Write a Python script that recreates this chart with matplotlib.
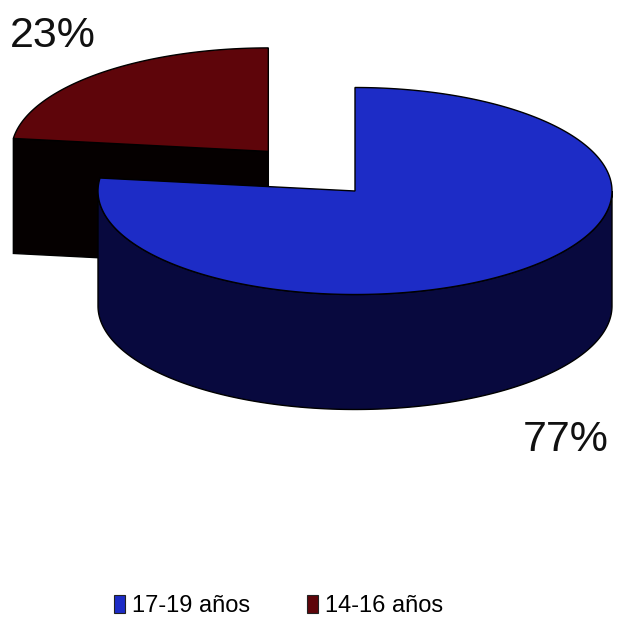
import numpy as np
import matplotlib.pyplot as plt
from matplotlib.patches import Polygon, Patch

# Data
labels = ["17-19 años", "14-16 años"]
values = [77, 23]
top_colors = ["#1d2cc6", "#5e050a"]
side_colors = ["#08093e", "#050000"]
explode = [0.0, 0.51]

plt.rcParams['font.family'] = ['Liberation Sans Narrow', 'Liberation Sans', 'DejaVu Sans']

fig = plt.figure(figsize=(6.19, 6.26), dpi=100)
ax = fig.add_axes([0, 0, 1, 1])
ax.set_xlim(0, 619)
ax.set_ylim(626, 0)
ax.axis('off')

# 3D pie layout (pixel units)
cx, cy, rx, ry, depth = 355, 191, 257, 103.5, 115
start_angle = 90


def ell(theta, ox, oy, dz=0.0):
    t = np.radians(theta)
    return np.column_stack([cx + ox + rx * np.cos(t), cy + oy - ry * np.sin(t) + dz])


# slice angles: clockwise from 12 o'clock
fracs = np.array(values) / sum(values)
ends = start_angle - 360 * np.cumsum(fracs)
starts = ends + 360 * fracs

slices = []
for i in range(len(values)):
    mid = np.radians((starts[i] + ends[i]) / 2)
    ox = explode[i] * rx * np.cos(mid)
    oy = -explode[i] * ry * np.sin(mid)
    slices.append((oy, i, ox))

# paint back to front
for oy, i, ox in sorted(slices):
    a0, a1 = ends[i], starts[i]
    c = np.array([[cx + ox, cy + oy]])
    down = np.array([[0, depth]])

    # radial cut faces facing the viewer
    for a, vis in [(a1, np.cos(np.radians(a1)) < -1e-6), (a0, np.cos(np.radians(a0)) > 1e-6)]:
        if vis:
            p = ell(np.array([a]), ox, oy)
            face = np.vstack([c, p, p + down, c + down])
            ax.add_patch(Polygon(face, closed=True, fc=side_colors[i], ec='black', lw=1))

    # outer curved side (front half only)
    for k in range(-2, 2):
        lo, hi = max(a0, -180 + 360 * k), min(a1, 360 * k)
        if hi > lo:
            th = np.linspace(lo, hi, 200)
            top = ell(th, ox, oy)
            side = np.vstack([top, (top + down)[::-1]])
            ax.add_patch(Polygon(side, closed=True, fc=side_colors[i], ec='black', lw=1))

    # top face
    th = np.linspace(a0, a1, 400)
    face = np.vstack([c, ell(th, ox, oy)])
    ax.add_patch(Polygon(face, closed=True, fc=top_colors[i], ec='black', lw=1))

# percentage labels
ax.text(10, 36, f"{values[1]}%", fontsize=31, ha='left', va='center', color='#111111')
ax.text(609, 440, f"{values[0]}%", fontsize=31, ha='right', va='center', color='#111111')

handles = [Patch(facecolor=top_colors[i], edgecolor='#222222', lw=0.8) for i in range(len(labels))]
fig.legend(handles, labels, loc='center', bbox_to_anchor=(0.45, 1 - 606 / 626), ncol=2,
           frameon=False, fontsize=17, handlelength=0.45, handleheight=0.8,
           handletextpad=0.3, columnspacing=2.4)

fig.savefig("out.png", dpi=100)
